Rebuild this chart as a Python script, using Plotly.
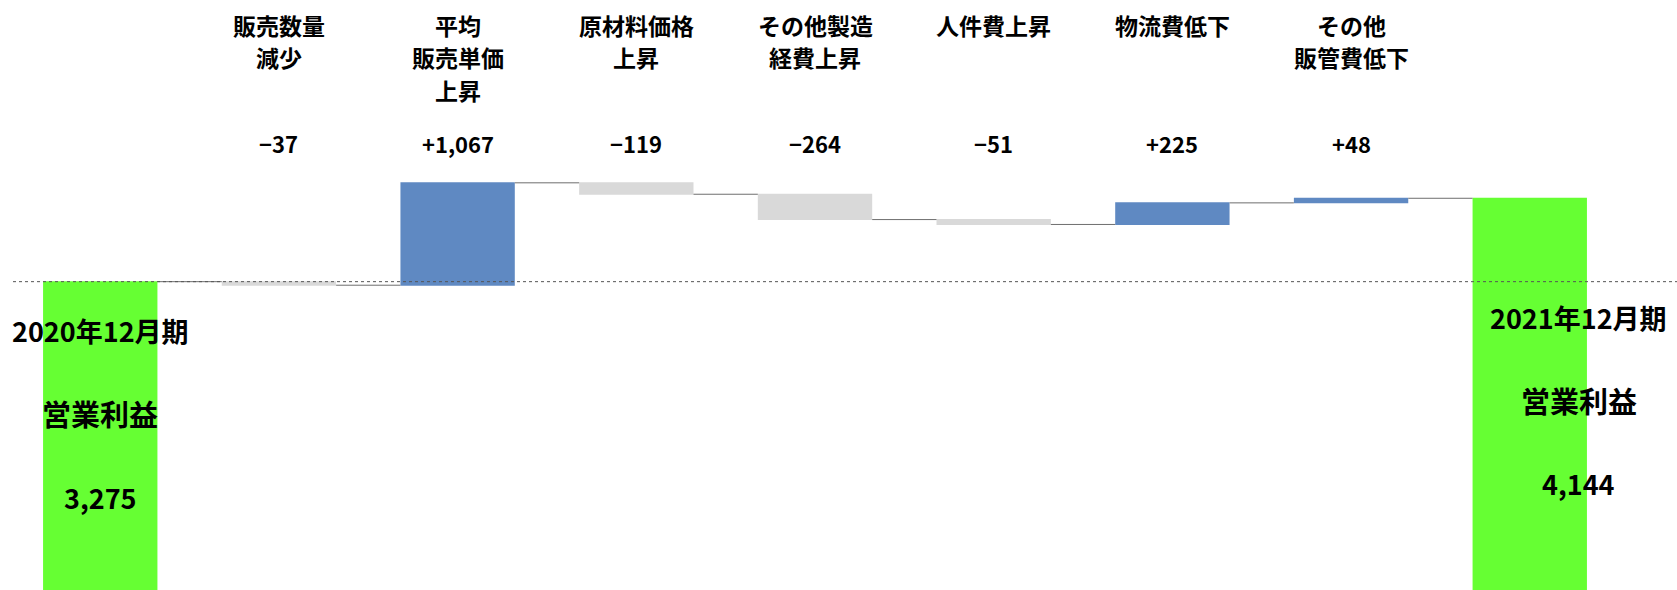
import plotly.graph_objects as go

categories = ["2020年12月期営業利益", "販売数量減少", "平均販売単価上昇", "原材料価格上昇",
              "その他製造経費上昇", "人件費上昇", "物流費低下", "その他販管費低下", "2021年12月期営業利益"]
top_labels = [[], ["販売数量", "減少"], ["平均", "販売単価", "上昇"], ["原材料価格", "上昇"],
              ["その他製造", "経費上昇"], ["人件費上昇"], ["物流費低下"], ["その他", "販管費低下"], []]
values = [3275, -37, 1067, -119, -264, -51, 225, 48, 4144]
measures = ["absolute", "relative", "relative", "relative", "relative", "relative", "relative", "relative", "total"]
start_label = ["2020年12月期", "営業利益"]
end_label = ["2021年12月期", "営業利益"]

GREEN = "#66FF33"
BLUE = "#5F89C2"
GRAY = "#D9D9D9"
FONT = "Noto Sans CJK JP"

fig = go.Figure(go.Waterfall(
    x=categories, y=values, measure=measures,
    increasing=dict(marker=dict(color=BLUE)),
    decreasing=dict(marker=dict(color=GRAY)),
    totals=dict(marker=dict(color=GREEN)),
    connector=dict(line=dict(color="#6e6e6e", width=1)),
    textinfo="none", hoverinfo="skip",
))

def fmt(v):
    s = f"{v:+,}"
    return s.replace("-", "−")

ann = []
for i, c in enumerate(categories):
    for k, line in enumerate(top_labels[i]):
        ann.append(dict(x=c, y=1 - (25 + 32.5 * k) / 590, xref="x", yref="paper", yanchor="middle",
                        text=f"<b>{line}</b>", showarrow=False,
                        font=dict(family=FONT, size=23, color="black")))
    if top_labels[i]:
        ann.append(dict(x=c, y=1 - 143 / 590, xref="x", yref="paper", yanchor="middle",
                        text=f"<b>{fmt(values[i])}</b>", showarrow=False,
                        font=dict(family=FONT, size=22, color="black")))

left_texts = start_label + [f"{values[0]:,}"]
right_texts = end_label + [f"{values[-1]:,}"]
sizes = [27, 29, 27]
left_y = [330, 413, 497]
right_y = [317, 400, 483]
for t, yy, s in zip(left_texts, left_y, sizes):
    ann.append(dict(x=categories[0], y=1 - yy / 590, xref="x", yref="paper", yanchor="middle",
                    text=f"<b>{t}</b>", showarrow=False,
                    font=dict(family=FONT, size=s, color="black")))
for t, yy, s in zip(right_texts, right_y, sizes):
    ann.append(dict(x=categories[-1], y=1 - yy / 590, xref="x", yref="paper", yanchor="middle",
                    xshift=49,
                    text=f"<b>{t}</b>", showarrow=False,
                    font=dict(family=FONT, size=s, color="black")))

fig.add_shape(type="line", xref="paper", yref="y", x0=13 / 1677, x1=1, y0=values[0], y1=values[0],
              line=dict(color="#555555", width=1, dash="dot"))

fig.update_layout(
    width=1677, height=590,
    margin=dict(l=0, r=0, t=0, b=0),
    paper_bgcolor="white", plot_bgcolor="white",
    showlegend=False, waterfallgap=0.36,
    xaxis=dict(range=[-0.561, 8.824], showticklabels=False, showgrid=False, zeroline=False, showline=False),
    yaxis=dict(range=[62, 6210], showticklabels=False, showgrid=False, zeroline=False, showline=False),
    annotations=ann,
)

fig.write_html("out.html", config={"displayModeBar": False},
               post_script="document.body.style.margin='0';")
